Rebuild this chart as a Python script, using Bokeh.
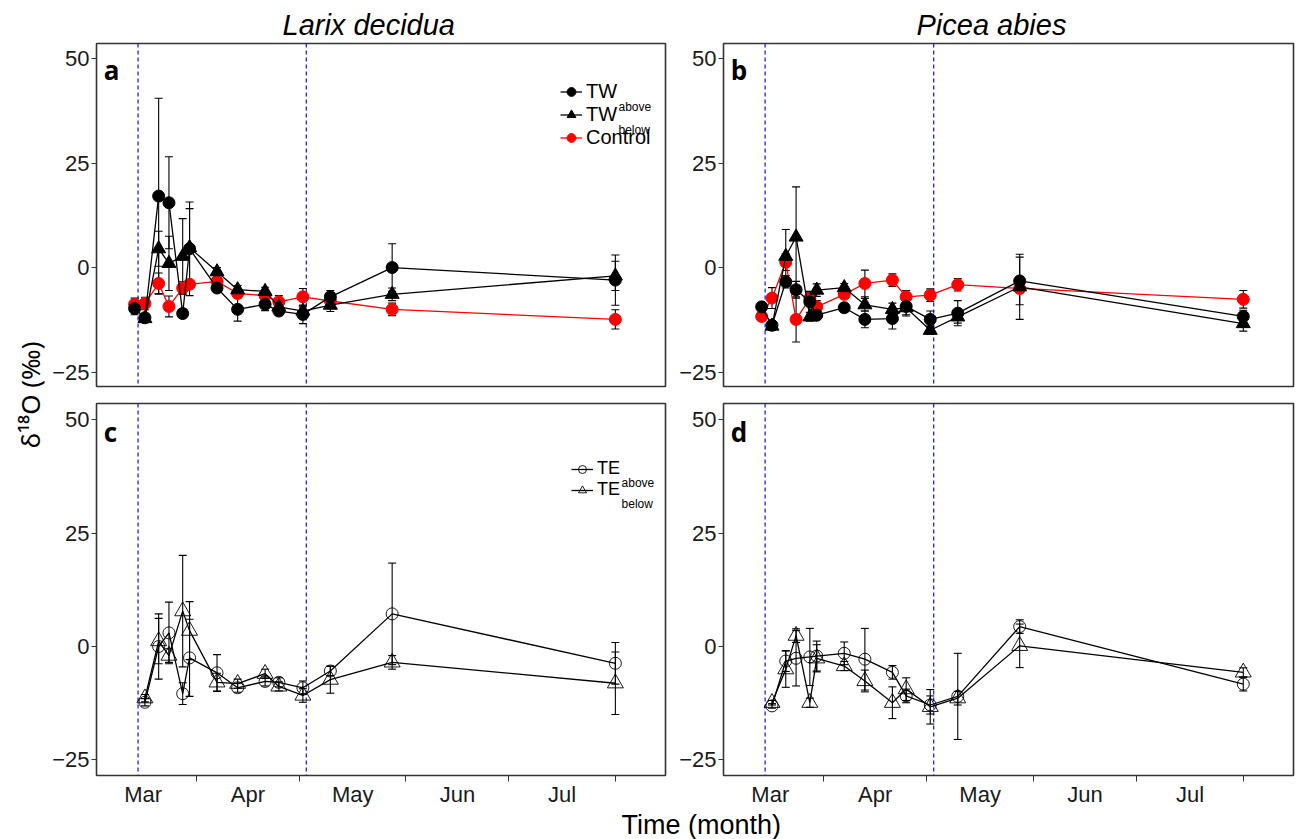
from math import pi
import pandas as pd
from bokeh.plotting import figure
from bokeh.models import (ColumnDataSource, Whisker, TeeHead, Span, Label, Legend,
                          LegendItem, FixedTicker, Range1d)
from bokeh.layouts import row, column
from bokeh.embed import file_html
from bokeh.resources import INLINE

# ---------------- data ----------------
YEAR = 2019
sample_dates = ["03-14", "03-17", "03-21", "03-24", "03-28", "03-30", "04-07",
                "04-13", "04-21", "04-25", "05-02", "05-10", "05-28", "08-01"]
sample_dates_late = sample_dates[1:]          # series that start on 03-17
event_dates = ["03-15", "05-03"]              # blue dashed lines
month_labels = ["Mar", "Apr", "May", "Jun", "Jul"]
month_starts = ["03-01", "04-01", "05-01", "06-01", "07-01", "08-01"]
y_ticks = [-25, 0, 25, 50]

# panel a : Larix decidua, TW
a_tw_above = [-9.8, -12.0, 17.1, 15.5, -11.0, 4.5, -4.9, -10.0, -8.8, -10.4, -11.2, -7.0, 0.0, -3.0]
a_tw_above_se = [1.5, 1.0, 23.4, 11.0, 1.0, 11.2, 1.0, 2.8, 1.5, 1.0, 2.2, 1.5, 5.7, 6.0]
a_tw_below = [-12.2, 4.5, 1.0, 2.7, 4.8, -1.0, -5.3, -5.7, -9.4, -10.4, -9.0, -6.4, -2.0]
a_tw_below_se = [1.0, 4.2, 6.5, 9.0, 9.3, 1.0, 1.0, 1.0, 1.0, 1.0, 1.5, 1.5, 3.5]
a_control = [-8.8, -8.6, -3.8, -9.3, -4.9, -4.0, -3.3, -6.2, -6.7, -8.2, -7.0, -8.0, -10.0, -12.4]
a_control_se = [1.5, 1.5, 2.5, 2.5, 1.5, 0.7, 1.0, 1.0, 1.0, 1.5, 2.0, 1.0, 1.5, 2.3]

# panel b : Picea abies, TW
b_tw_above = [-9.4, -13.8, -3.4, -5.3, -8.2, -11.4, -9.6, -12.4, -12.2, -9.3, -12.4, -10.9, -3.2, -11.7]
b_tw_above_se = [1.0, 1.0, 1.5, 2.0, 2.5, 1.0, 1.0, 2.0, 2.5, 2.0, 2.0, 3.0, 5.7, 1.5]
b_tw_below = [-14.0, 2.7, 7.3, -11.8, -5.4, -4.8, -8.9, -10.0, -9.6, -15.0, -11.8, -4.6, -13.4]
b_tw_below_se = [1.0, 6.4, 12.0, 1.0, 1.5, 1.0, 1.5, 1.5, 2.0, 1.0, 1.5, 7.8, 1.8]
b_control = [-11.7, -7.3, 1.3, -12.4, -7.4, -9.4, -6.4, -3.8, -3.0, -7.0, -6.6, -4.1, -5.0, -7.6]
b_control_se = [1.0, 2.5, 2.0, 5.4, 1.5, 1.5, 1.0, 3.2, 1.5, 1.5, 1.5, 1.5, 1.0, 2.1]

# panel c : Larix decidua, TE
c_te_above = [-12.3, 0.0, 3.0, -10.4, -2.5, -5.8, -9.1, -7.7, -7.9, -9.1, -5.4, 7.2, -3.7]
c_te_above_se = [0.8, 7.2, 6.8, 2.4, 8.5, 4.0, 1.0, 1.0, 1.0, 1.5, 1.0, 11.2, 4.6]
c_te_below = [-11.4, 1.2, -2.0, 7.8, 3.5, -7.9, -8.2, -6.0, -8.8, -10.8, -7.3, -3.5, -8.1]
c_te_below_se = [0.8, 5.0, 1.5, 12.3, 6.4, 2.0, 1.0, 1.0, 1.0, 1.5, 3.0, 1.5, 6.9]

# panel d : Picea abies, TE
d_te_above = [-13.1, -3.2, -2.6, -2.3, -2.1, -1.5, -2.8, -5.7, -10.9, -12.9, -11.0, 4.4, -8.3]
d_te_above_se = [0.5, 2.3, 6.1, 6.3, 3.3, 2.5, 6.8, 1.5, 1.5, 2.0, 9.5, 1.5, 1.5]
d_te_below = [-12.4, -5.0, 2.4, -12.4, -2.6, -4.3, -7.6, -12.4, -9.4, -13.3, -11.4, 0.15, -5.7]
d_te_below_se = [0.5, 4.0, 1.5, 1.0, 3.0, 1.0, 2.4, 3.5, 2.5, 3.8, 1.5, 4.8, 1.0]

# ---------------- helpers ----------------
ORIGIN = pd.Timestamp(f"{YEAR}-03-01")


def day(md):
    return float((pd.Timestamp(f"{YEAR}-{md}") - ORIGIN).days)


X_RANGE = (1.9, 167.6)
Y_RANGE = (-28.45, 53.6)
FONT = "Liberation Sans"
starts = [day(m) for m in month_starts]
mids = [(starts[i] + starts[i + 1]) / 2 for i in range(len(month_labels))]


def make_panel(fw, fh, bl, br, bt, bb, show_x):
    p = figure(frame_width=fw, frame_height=fh, toolbar_location=None, output_backend="svg",
               x_range=Range1d(*X_RANGE), y_range=Range1d(*Y_RANGE),
               x_axis_location="below" if show_x else None,
               min_border_left=bl, min_border_right=br, min_border_top=bt, min_border_bottom=bb)
    p.xgrid.visible = False
    p.ygrid.visible = False
    p.outline_line_color = "#333333"
    p.outline_line_width = 1.6
    p.background_fill_color = "white"
    p.border_fill_color = "white"
    ax = p.yaxis[0]
    ax.ticker = FixedTicker(ticks=y_ticks)
    ax.axis_line_color = None
    ax.major_tick_out = 5
    ax.major_tick_in = 0
    ax.minor_tick_line_color = None
    ax.major_tick_line_color = "#333333"
    ax.major_label_text_font = FONT
    ax.major_label_text_font_size = "22px"
    ax.major_label_text_color = "#1a1a1a"
    ax.major_label_standoff = 2
    if show_x:
        xa = p.xaxis[0]
        xa.ticker = FixedTicker(ticks=mids, minor_ticks=starts)
        xa.major_label_overrides = {m: lab for m, lab in zip(mids, month_labels)}
        xa.axis_label = None
        xa.axis_label_standoff = 0
        xa.axis_line_color = None
        xa.major_tick_line_color = None
        xa.major_tick_out = 0
        xa.major_tick_in = 0
        xa.minor_tick_out = 6
        xa.minor_tick_in = 0
        xa.minor_tick_line_color = "#333333"
        xa.major_label_standoff = 0
        xa.major_label_text_font = FONT
        xa.major_label_text_font_size = "22px"
        xa.major_label_text_line_height = 1.0
        xa.major_label_text_color = "#1a1a1a"
    for d in event_dates:
        p.add_layout(Span(location=day(d), dimension="height", line_color="#1f1fff",
                          line_dash="4 3", line_width=1.3, level="underlay"))
    return p


def add_series(p, dates, vals, ses, marker, color, size, filled):
    x = [day(d) for d in dates]
    src = ColumnDataSource(dict(x=x, y=vals,
                                upper=[v + e for v, e in zip(vals, ses)],
                                lower=[v - e for v, e in zip(vals, ses)]))
    ln = p.line("x", "y", source=src, line_color=color, line_width=1.3)
    if filled:
        sc = p.scatter("x", "y", source=src, marker=marker, size=size,
                       fill_color=color, line_color=color)
    else:
        sc = p.scatter("x", "y", source=src, marker=marker, size=size,
                       fill_color=None, line_color=color, line_width=0.9)
    wh = Whisker(source=src, base="x", upper="upper", lower="lower",
                 line_color="black", line_width=1.1,
                 upper_head=TeeHead(size=8, line_color="black", line_width=1.1),
                 lower_head=TeeHead(size=8, line_color="black", line_width=1.1))
    p.add_layout(wh)
    return ln, sc


def panel_letter(p, letter):
    p.add_layout(Label(x=4.0, y=47.3, text=letter, text_font="Open Sans",
                       text_font_style="bold", text_font_size="26px",
                       text_color="black", text_baseline="alphabetic"))


def subscript(p, x, y, text):
    p.add_layout(Label(x=x, y=y, text=text, text_font=FONT, text_font_size="12px",
                       text_color="black", text_baseline="alphabetic", text_align="left"))


def style_legend(leg, size, row_h):
    leg.border_line_color = None
    leg.background_fill_alpha = 0
    leg.padding = 0
    leg.margin = 0
    leg.spacing = 0
    leg.glyph_width = 22
    leg.glyph_height = row_h
    leg.label_height = row_h
    leg.label_standoff = 4
    leg.label_text_font = FONT
    leg.label_text_font_size = size
    leg.label_text_color = "black"


# ---------------- layout sizes ----------------
LFW, RFW = 569, 570          # frame widths
TFH, BFH = 343, 372          # frame heights
YLAB_W = 49
LBL, LBR, RBL, RBR = 47, 5, 53, 2

# ---------------- panel a ----------------
pa = make_panel(LFW, TFH, LBL, LBR, 43, 8, False)
pa.title.text = "Larix decidua"
ca = add_series(pa, sample_dates, a_control, a_control_se, "circle", "#ff0000", 12, True)
ba = add_series(pa, sample_dates_late, a_tw_below, a_tw_below_se, "triangle", "black", 14, True)
aa = add_series(pa, sample_dates, a_tw_above, a_tw_above_se, "circle", "black", 12, True)
panel_letter(pa, "a")
leg_a = Legend(items=[LegendItem(label="TW", renderers=list(aa)),
                      LegendItem(label="TW", renderers=list(ba)),
                      LegendItem(label="Control", renderers=list(ca))],
               location=(464, 237))
style_legend(leg_a, "20px", 23)
pa.add_layout(leg_a)
subscript(pa, 153.9, 38.3, "above")
subscript(pa, 153.9, 32.8, "below")

# ---------------- panel b ----------------
pb = make_panel(RFW, TFH, RBL, RBR, 43, 8, False)
pb.title.text = "Picea abies"
add_series(pb, sample_dates, b_control, b_control_se, "circle", "#ff0000", 12, True)
add_series(pb, sample_dates_late, b_tw_below, b_tw_below_se, "triangle", "black", 14, True)
add_series(pb, sample_dates, b_tw_above, b_tw_above_se, "circle", "black", 12, True)
panel_letter(pb, "b")

for p, off in ((pa, 186), (pb, 193)):
    p.title.align = "left"
    p.title.offset = off
    p.title.standoff = 6
    p.title.text_font = FONT
    p.title.text_font_style = "italic"
    p.title.text_font_size = "29px"
    p.title.text_color = "black"

# ---------------- panel c ----------------
pc = make_panel(LFW, BFH, LBL, LBR, 9, 30, True)
cb = add_series(pc, sample_dates_late, c_te_below, c_te_below_se, "triangle", "black", 16, False)
cc = add_series(pc, sample_dates_late, c_te_above, c_te_above_se, "circle", "black", 12, False)
panel_letter(pc, "c")
leg_c = Legend(items=[LegendItem(label="TE", renderers=list(cc)),
                      LegendItem(label="TE", renderers=list(cb))],
               location=(475, 275))
style_legend(leg_c, "18px", 20)
pc.add_layout(leg_c)
subscript(pc, 154.8, 36.0, "above")
subscript(pc, 154.8, 31.5, "below")

# ---------------- panel d ----------------
pd_ = make_panel(RFW, BFH, RBL, RBR, 9, 30, True)
add_series(pd_, sample_dates_late, d_te_below, d_te_below_se, "triangle", "black", 16, False)
add_series(pd_, sample_dates_late, d_te_above, d_te_above_se, "circle", "black", 12, False)
panel_letter(pd_, "d")

# ---------------- shared axis titles ----------------
TOP_H = 43 + TFH + 8
BOT_H = 9 + BFH + 30
ylab = figure(width=YLAB_W, height=TOP_H + BOT_H, toolbar_location=None, output_backend="svg",
              x_range=Range1d(0, 1), y_range=Range1d(0, 1),
              x_axis_location=None, y_axis_location=None,
              min_border_left=0, min_border_right=0, min_border_top=0, min_border_bottom=0)
ylab.outline_line_color = None
ylab.xgrid.visible = False
ylab.ygrid.visible = False
ylab.add_layout(Label(x=0.6, y=0.51, text="δ¹⁸O (‰)", angle=pi / 2,
                      text_align="center", text_baseline="middle",
                      text_font="Noto Sans", text_font_size="26px", text_color="black"))

XLAB_H = 30
xlab = figure(width=LBL + LFW + LBR + RBL + RFW + RBR, height=XLAB_H, toolbar_location=None,
              output_backend="svg", x_range=Range1d(0, 1), y_range=Range1d(0, 1),
              x_axis_location=None, y_axis_location=None,
              min_border_left=0, min_border_right=0, min_border_top=0, min_border_bottom=0)
xlab.outline_line_color = None
xlab.xgrid.visible = False
xlab.ygrid.visible = False
xlab.add_layout(Label(x=0.523, y=0.5, text="Time (month)", text_align="center",
                      text_baseline="middle", text_font=FONT, text_font_size="27px",
                      text_color="black"))

layout = row(ylab, column(row(pa, pb), row(pc, pd_), xlab))

with open("out.html", "w") as f:
    f.write(file_html(layout, INLINE))
